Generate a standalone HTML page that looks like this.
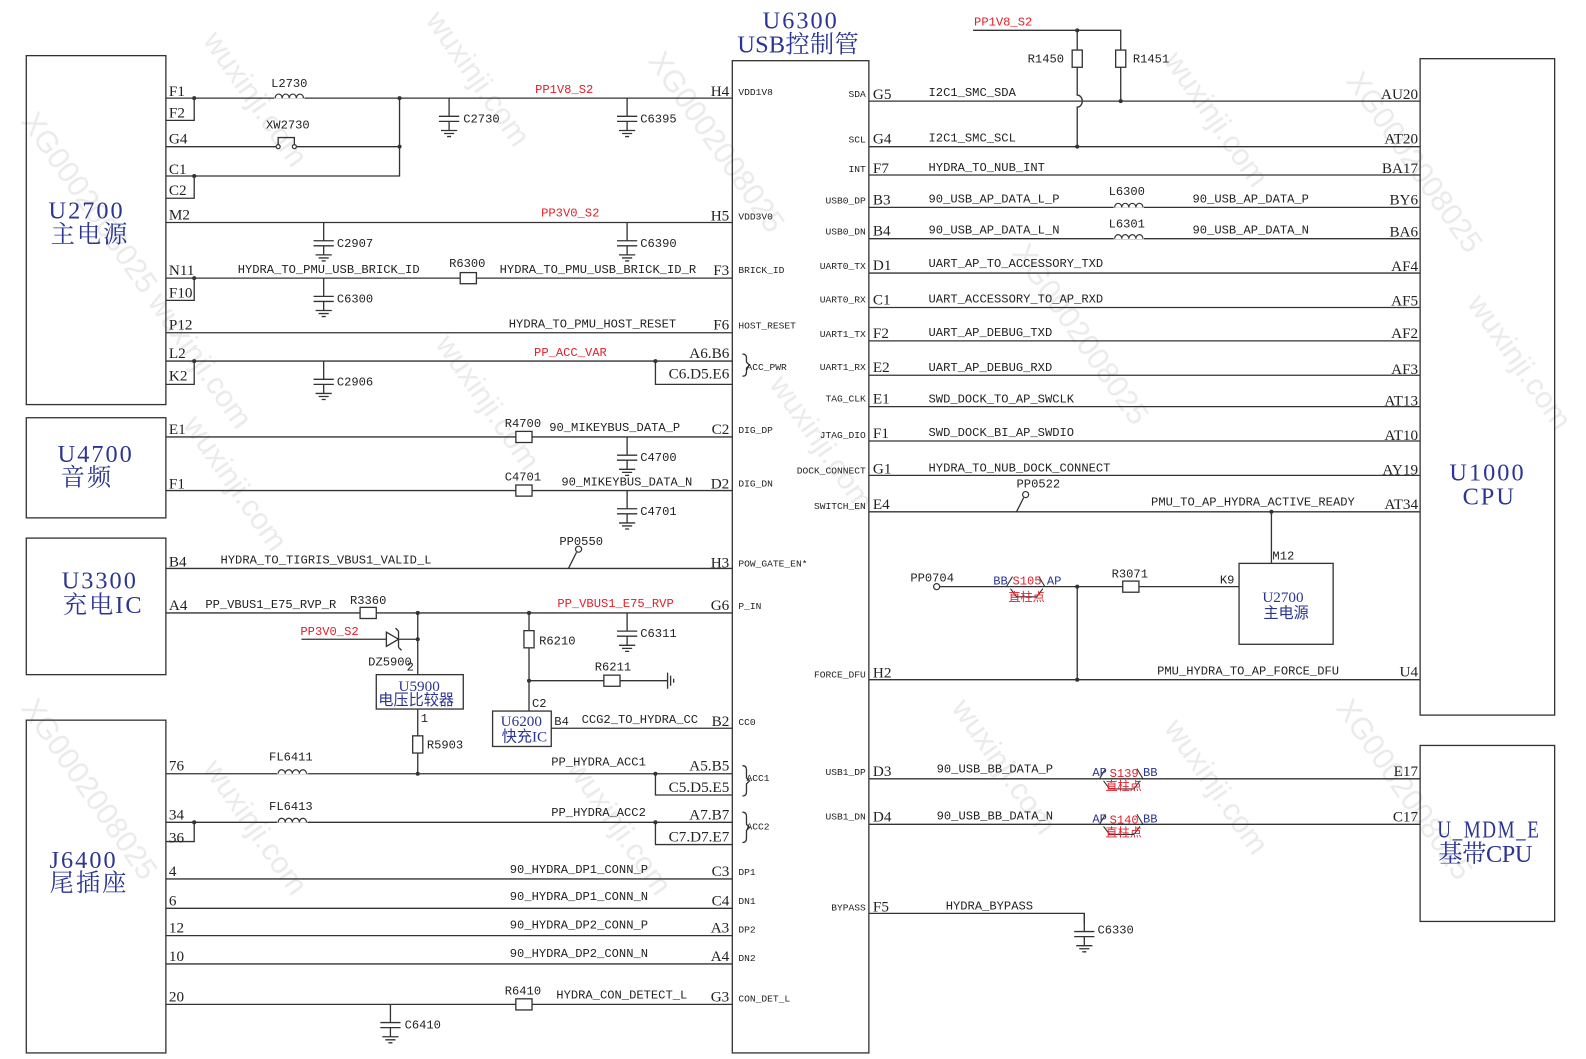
<!DOCTYPE html>
<html><head><meta charset="utf-8"><style>
html,body{margin:0;padding:0;background:#fff}
svg{display:block}
text{font-family:"Liberation Mono","Noto Sans CJK SC",monospace;font-size:12px;fill:#222}
.pc text{font-size:15px;font-family:"Liberation Serif","Noto Sans CJK SC",serif}
.sm text{font-size:9.5px}
.r{fill:#e3202a}
.b{fill:#2b3592}
.tt{font-family:"Liberation Serif","Noto Serif CJK SC",serif;font-size:24px;fill:#2b3592;letter-spacing:2px}
.t2{font-family:"Liberation Serif","Noto Sans CJK SC",serif;font-size:15px;fill:#2b3592}
.wm{font-family:"Liberation Sans","Noto Sans CJK SC",sans-serif;font-size:30px;fill:#e6e6e6}
</style></head><body>
<svg width="1586" height="1059" viewBox="0 0 1568 1047" preserveAspectRatio="none" xmlns="http://www.w3.org/2000/svg">
<defs>
<g id="cap" fill="none" stroke="#333" stroke-width="1.3"><path d="M0 0V18M-10 18H10M-10 23H10M0 23V32M-8 32H8M-5 35H5M-2 38H2"/></g>
<g id="rh"><rect x="-8" y="-5.5" width="16" height="11" fill="#fff" stroke="#333" stroke-width="1.3"/></g>
<g id="rv"><rect x="-5" y="-8.5" width="10" height="17" fill="#fff" stroke="#333" stroke-width="1.3"/></g>
<g id="ind"><rect x="-1" y="-6" width="30" height="6.5" fill="#fff"/><path d="M0 0a3.5 4 0 0 1 7 0a3.5 4 0 0 1 7 0a3.5 4 0 0 1 7 0a3.5 4 0 0 1 7 0" fill="none" stroke="#333" stroke-width="1.2"/></g>
</defs>
<rect width="1568" height="1047" fill="#fff"/>
<g opacity="0.8">
<text class="wm" transform="translate(200,40) rotate(55)">wuxinji.com</text>
<text class="wm" transform="translate(420,20) rotate(55)">wuxinji.com</text>
<text class="wm" transform="translate(640,60) rotate(55)">XG0002008025</text>
<text class="wm" transform="translate(20,120) rotate(55)">XG0002008025 wuxinji.com</text>
<text class="wm" transform="translate(180,420) rotate(55)">wuxinji.com</text>
<text class="wm" transform="translate(430,340) rotate(55)">wuxinji.com</text>
<text class="wm" transform="translate(760,380) rotate(55)">wuxinji.com</text>
<text class="wm" transform="translate(1000,250) rotate(55)">XG0002008025</text>
<text class="wm" transform="translate(1150,60) rotate(55)">wuxinji.com</text>
<text class="wm" transform="translate(1330,80) rotate(55)">XG0002008025</text>
<text class="wm" transform="translate(1450,300) rotate(55)">wuxinji.com</text>
<text class="wm" transform="translate(940,700) rotate(55)">wuxinji.com</text>
<text class="wm" transform="translate(1150,720) rotate(55)">wuxinji.com</text>
<text class="wm" transform="translate(1320,700) rotate(55)">XG0002008025</text>
<text class="wm" transform="translate(200,760) rotate(55)">wuxinji.com</text>
<text class="wm" transform="translate(560,760) rotate(55)">wuxinji.com</text>
<text class="wm" transform="translate(20,700) rotate(55)">XG0002008025</text>
</g>

<g fill="none" stroke="#333" stroke-width="1.3">
<rect x="26" y="55" width="138" height="345"/>
<rect x="26" y="413" width="138" height="99"/>
<rect x="26" y="532" width="138" height="135"/>
<rect x="26" y="712" width="138" height="329"/>
<rect x="724" y="60" width="135" height="981"/>
<rect x="1404" y="58" width="133" height="649"/>
<rect x="1404" y="737" width="133" height="174"/>
<rect x="1225" y="557" width="93" height="80"/>
<rect x="372" y="667" width="86" height="34"/>
<rect x="487" y="703" width="58" height="35"/>
<path d="M164 97H724M192 97V119H164M164 145H275V136H291V145H395M164 174H395V97M192 174V196H164"/>
<path d="M164 220H724M164 275H724M192 275V297H164M164 329H724M164 357H724M192 357V380H164M648 357V380H724"/>
<path d="M164 432H724M164 485H724M164 562H724M164 606H724"/>
<path d="M298 632H413M413 606V667M413 701V765M523 606V703M523 673H660M545 720H724"/>
<path d="M164 765H724M648 765V786H724M164 813H724M192 813V832H164M648 813V835H724"/>
<path d="M164 869H724M164 898H724M164 925H724M164 953H724M164 993H724"/>
<path d="M859 100H1404M859 145H1404M859 173H1404M859 205H1404M859 236H1404M859 270H1404M859 304H1404M859 337H1404M859 371H1404M859 402H1404M859 436H1404M859 470H1404M859 506H1404M859 672H1404M859 770H1404M859 815H1404M859 903H1072V914"/>
<path d="M962 30H1108V100M1065 30V94a5 6 0 0 1 0 12V145"/>
<path d="M926 580H1225M1065 580V672M1257 506V557M1005 506L1012 492"/>
<path d="M562 562L570 546"/>
<path d="M734 350q4 0 4 4V358l3 3l-3 3V368q0 4-4 4M734 757q4 0 4 4V769l3 3l-3 3V783q0 4-4 4M734 803q4 0 4 4V815l3 3l-3 3V829q0 4-4 4"/>
<path d="M382 625V639L394 632ZM394 624V640M394 624l-3-3M394 640l3 3" fill="#fff"/>
<path d="M660 665V681M663 668V678M666 671V675"/>
</g>
<g fill="#fff" stroke="#333" stroke-width="1.2">
<circle cx="275" cy="145" r="2"/><circle cx="291" cy="145" r="2"/>
<circle cx="1014" cy="489" r="3"/><circle cx="926" cy="580" r="3"/><circle cx="572" cy="543" r="3"/>
</g>
<g fill="#333">
<circle cx="192" cy="97" r="2"/><circle cx="395" cy="97" r="2"/><circle cx="395" cy="145" r="2"/><circle cx="192" cy="174" r="2"/>
<circle cx="192" cy="275" r="2"/><circle cx="192" cy="357" r="2"/><circle cx="648" cy="357" r="2"/>
<circle cx="413" cy="606" r="2"/><circle cx="413" cy="632" r="2"/><circle cx="523" cy="606" r="2"/><circle cx="523" cy="673" r="2"/>
<circle cx="413" cy="765" r="2"/><circle cx="648" cy="765" r="2"/><circle cx="192" cy="813" r="2"/><circle cx="648" cy="813" r="2"/>
<circle cx="1065" cy="30" r="2"/><circle cx="1108" cy="100" r="2"/><circle cx="1065" cy="145" r="2"/>
<circle cx="1257" cy="506" r="2"/><circle cx="1065" cy="580" r="2"/><circle cx="1065" cy="672" r="2"/>
</g>
<use href="#ind" x="272" y="97"/><use href="#ind" x="275" y="765"/><use href="#ind" x="275" y="813"/>
<use href="#ind" x="1102" y="205"/><use href="#ind" x="1102" y="236"/>
<use href="#cap" x="444" y="97"/><use href="#cap" x="620" y="97"/><use href="#cap" x="320" y="220"/><use href="#cap" x="620" y="220"/>
<use href="#cap" x="320" y="275"/><use href="#cap" x="320" y="357"/><use href="#cap" x="620" y="432"/><use href="#cap" x="620" y="485"/>
<use href="#cap" x="620" y="606"/><use href="#cap" x="386" y="993"/><use href="#cap" x="1072" y="903"/>
<use href="#rh" x="463" y="275"/><use href="#rh" x="518" y="432"/><use href="#rh" x="518" y="485"/><use href="#rh" x="364" y="606"/>
<use href="#rh" x="605" y="673"/><use href="#rh" x="518" y="993"/><use href="#rh" x="1118" y="580"/>
<use href="#rv" x="523" y="632"/><use href="#rv" x="413" y="736"/><use href="#rv" x="1065" y="58"/><use href="#rv" x="1108" y="58"/>
<g fill="none" stroke="#333" stroke-width="1.1"><path d="M995 580l6-10M1033 580l-6-10M999 582l6 8h20l6-8M1087 770l6-10M1130 770l-6-10M1091 772l6 8h24l6-8M1087 815l6-10M1130 815l-6-10M1091 817l6 8h24l6-8"/></g>

<text class="tt" x="48" y="216">U2700</text><text class="tt" x="50" y="240">主电源</text>
<text class="tt" x="57" y="457">U4700</text><text class="tt" x="60" y="480">音频</text>
<text class="tt" x="61" y="582">U3300</text><text class="tt" x="62" y="606">充电IC</text>
<text class="tt" x="49" y="858">J6400</text><text class="tt" x="49" y="881">尾插座</text>
<text class="tt" x="754" y="28">U6300</text><text class="tt" x="729" y="52" textLength="122">USB控制管</text>
<text class="tt" x="1433" y="475">U1000</text><text class="tt" x="1446" y="499">CPU</text>
<text class="tt" x="1421" y="828" textLength="102" lengthAdjust="spacingAndGlyphs">U_MDM_E</text><text class="tt" x="1422" y="852" textLength="95">基带CPU</text>
<text class="t2" x="1248" y="595">U2700</text><text class="t2" x="1249" y="611">主电源</text>
<text class="t2" x="394" y="683">U5900</text><text class="t2" x="374" y="697">电压比较器</text>
<text class="t2" x="495" y="718">U6200</text><text class="t2" x="496" y="733">快充IC</text>

<g class="pc">
<text x="167" y="95">F1</text><text x="167" y="116">F2</text><text x="167" y="142">G4</text><text x="167" y="172">C1</text><text x="167" y="193">C2</text>
<text x="167" y="217">M2</text><text x="167" y="272">N11</text><text x="167" y="294">F10</text><text x="167" y="326">P12</text><text x="167" y="354">L2</text><text x="167" y="376">K2</text>
<text x="167" y="429">E1</text><text x="167" y="483">F1</text><text x="167" y="560">B4</text><text x="167" y="603">A4</text>
<text x="167" y="762">76</text><text x="167" y="810">34</text><text x="167" y="833">36</text><text x="167" y="866">4</text><text x="167" y="895">6</text>
<text x="167" y="922">12</text><text x="167" y="950">10</text><text x="167" y="990">20</text>
</g>
<g class="pc" text-anchor="end">
<text x="721" y="95">H4</text><text x="721" y="218">H5</text><text x="721" y="272">F3</text><text x="721" y="326">F6</text>
<text x="721" y="354">A6.B6</text><text x="721" y="374">C6.D5.E6</text>
<text x="721" y="429">C2</text><text x="721" y="483">D2</text><text x="721" y="561">H3</text><text x="721" y="603">G6</text><text x="721" y="718">B2</text>
<text x="721" y="762">A5.B5</text><text x="721" y="783">C5.D5.E5</text><text x="721" y="810">A7.B7</text><text x="721" y="832">C7.D7.E7</text>
<text x="721" y="866">C3</text><text x="721" y="895">C4</text><text x="721" y="922">A3</text><text x="721" y="950">A4</text><text x="721" y="990">G3</text>
</g>
<text x="268" y="86">L2730</text><text x="263" y="127">XW2730</text>
<text class="r" x="529" y="92">PP1V8_S2</text><text class="r" x="535" y="214">PP3V0_S2</text>
<text x="458" y="121">C2730</text><text x="633" y="121">C6395</text><text x="333" y="244">C2907</text><text x="633" y="244">C6390</text>
<text x="235" y="270">HYDRA_TO_PMU_USB_BRICK_ID</text><text x="444" y="264">R6300</text><text x="494" y="270">HYDRA_TO_PMU_USB_BRICK_ID_R</text>
<text x="333" y="299">C6300</text><text x="503" y="324">HYDRA_TO_PMU_HOST_RESET</text>
<text class="r" x="528" y="352">PP_ACC_VAR</text><text x="333" y="381">C2906</text>
<text x="499" y="422">R4700</text><text x="543" y="426">90_MIKEYBUS_DATA_P</text><text x="633" y="456">C4700</text>
<text x="499" y="475">C4701</text><text x="555" y="480">90_MIKEYBUS_DATA_N</text><text x="633" y="509">C4701</text>
<text x="218" y="557">HYDRA_TO_TIGRIS_VBUS1_VALID_L</text><text x="553" y="539">PP0550</text>
<text x="203" y="601">PP_VBUS1_E75_RVP_R</text><text x="346" y="597">R3360</text><text class="r" x="551" y="600">PP_VBUS1_E75_RVP</text>
<text class="r" x="297" y="628">PP3V0_S2</text><text x="364" y="658">DZ5900</text><text x="402" y="663" font-size="10">2</text><text x="416" y="714" font-size="10">1</text>
<text x="533" y="637">R6210</text><text x="633" y="630">C6311</text><text x="588" y="663">R6211</text>
<text x="526" y="699" font-size="11">C2</text><text x="548" y="717">B4</text><text x="575" y="715">CCG2_TO_HYDRA_CC</text>
<text x="422" y="740">R5903</text>
<text x="266" y="752">FL6411</text><text x="545" y="757">PP_HYDRA_ACC1</text>
<text x="266" y="801">FL6413</text><text x="545" y="807">PP_HYDRA_ACC2</text>
<text x="504" y="863">90_HYDRA_DP1_CONN_P</text><text x="504" y="890">90_HYDRA_DP1_CONN_N</text>
<text x="504" y="918">90_HYDRA_DP2_CONN_P</text><text x="504" y="946">90_HYDRA_DP2_CONN_N</text>
<text x="499" y="983">R6410</text><text x="550" y="987">HYDRA_CON_DETECT_L</text><text x="400" y="1017">C6410</text>

<g class="sm">
<text x="730" y="94">VDD1V8</text><text x="730" y="217">VDD3V0</text><text x="730" y="270">BRICK_ID</text><text x="730" y="325">HOST_RESET</text>
<text x="738" y="366">ACC_PWR</text><text x="730" y="428">DIG_DP</text><text x="730" y="481">DIG_DN</text><text x="730" y="560">POW_GATE_EN*</text>
<text x="730" y="602">P_IN</text><text x="730" y="717">CC0</text><text x="738" y="772">ACC1</text><text x="738" y="820">ACC2</text>
<text x="730" y="865">DP1</text><text x="730" y="894">DN1</text><text x="730" y="922">DP2</text><text x="730" y="950">DN2</text><text x="730" y="990">CON_DET_L</text>
</g>
<g class="sm" text-anchor="end">
<text x="856" y="96">SDA</text><text x="856" y="141">SCL</text><text x="856" y="170">INT</text><text x="856" y="201">USB0_DP</text><text x="856" y="232">USB0_DN</text>
<text x="856" y="266">UART0_TX</text><text x="856" y="299">UART0_RX</text><text x="856" y="333">UART1_TX</text><text x="856" y="366">UART1_RX</text>
<text x="856" y="397">TAG_CLK</text><text x="856" y="433">JTAG_DIO</text><text x="856" y="468">DOCK_CONNECT</text><text x="856" y="503">SWITCH_EN</text>
<text x="856" y="670">FORCE_DFU</text><text x="856" y="766">USB1_DP</text><text x="856" y="810">USB1_DN</text><text x="856" y="900">BYPASS</text>
</g>
<g class="pc">
<text x="863" y="98">G5</text><text x="863" y="142">G4</text><text x="863" y="171">F7</text><text x="863" y="202">B3</text><text x="863" y="233">B4</text>
<text x="863" y="267">D1</text><text x="863" y="301">C1</text><text x="863" y="334">F2</text><text x="863" y="368">E2</text><text x="863" y="399">E1</text>
<text x="863" y="433">F1</text><text x="863" y="468">G1</text><text x="863" y="503">E4</text><text x="863" y="670">H2</text><text x="863" y="767">D3</text><text x="863" y="812">D4</text><text x="863" y="901">F5</text>
</g>
<g class="pc" text-anchor="end">
<text x="1402" y="98">AU20</text><text x="1402" y="142">AT20</text><text x="1402" y="171">BA17</text><text x="1402" y="202">BY6</text><text x="1402" y="234">BA6</text>
<text x="1402" y="268">AF4</text><text x="1402" y="302">AF5</text><text x="1402" y="334">AF2</text><text x="1402" y="370">AF3</text><text x="1402" y="401">AT13</text>
<text x="1402" y="435">AT10</text><text x="1402" y="469">AY19</text><text x="1402" y="503">AT34</text><text x="1402" y="669">U4</text><text x="1402" y="767">E17</text><text x="1402" y="812">C17</text>
</g>
<text class="r" x="963" y="25">PP1V8_S2</text><text x="1016" y="62">R1450</text><text x="1120" y="62">R1451</text>
<text x="918" y="95">I2C1_SMC_SDA</text><text x="918" y="140">I2C1_SMC_SCL</text><text x="918" y="169">HYDRA_TO_NUB_INT</text>
<text x="918" y="200">90_USB_AP_DATA_L_P</text><text x="1096" y="193">L6300</text><text x="1179" y="200">90_USB_AP_DATA_P</text>
<text x="918" y="231">90_USB_AP_DATA_L_N</text><text x="1096" y="225">L6301</text><text x="1179" y="231">90_USB_AP_DATA_N</text>
<text x="918" y="264">UART_AP_TO_ACCESSORY_TXD</text><text x="918" y="299">UART_ACCESSORY_TO_AP_RXD</text>
<text x="918" y="332">UART_AP_DEBUG_TXD</text><text x="918" y="367">UART_AP_DEBUG_RXD</text>
<text x="918" y="398">SWD_DOCK_TO_AP_SWCLK</text><text x="918" y="431">SWD_DOCK_BI_AP_SWDIO</text>
<text x="918" y="466">HYDRA_TO_NUB_DOCK_CONNECT</text><text x="1005" y="482">PP0522</text>
<text x="1138" y="500">PMU_TO_AP_HYDRA_ACTIVE_READY</text><text x="1258" y="553">M12</text>
<text x="900" y="575">PP0704</text><text x="1099" y="571">R3071</text><text x="1206" y="577">K9</text>
<text x="1144" y="667">PMU_HYDRA_TO_AP_FORCE_DFU</text>
<text x="926" y="764">90_USB_BB_DATA_P</text><text x="926" y="810">90_USB_BB_DATA_N</text>
<text x="935" y="899">HYDRA_BYPASS</text><text x="1085" y="923">C6330</text>
<text class="b" x="982" y="578" font-size="9">BB</text><text class="r" x="1001" y="578" font-size="9">S105</text><text class="b" x="1035" y="578" font-size="9">AP</text><text class="r" x="997" y="594" font-size="9">直柱点</text>
<text class="b" x="1080" y="767" font-size="9">AP</text><text class="r" x="1097" y="768" font-size="9">S139</text><text class="b" x="1130" y="767" font-size="9">BB</text><text class="r" x="1093" y="781" font-size="9">直柱点</text>
<text class="b" x="1080" y="813" font-size="9">AP</text><text class="r" x="1097" y="814" font-size="9">S140</text><text class="b" x="1130" y="813" font-size="9">BB</text><text class="r" x="1093" y="827" font-size="9">直柱点</text>
</svg>
</body></html>
